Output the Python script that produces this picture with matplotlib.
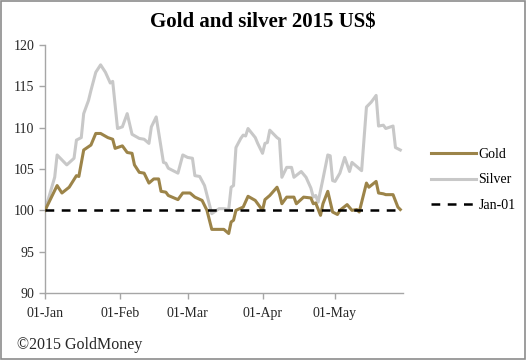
import numpy as np
import matplotlib
matplotlib.use("Agg")
import matplotlib.pyplot as plt
import matplotlib.dates as mdates
from matplotlib.patches import Rectangle

plt.rcParams['font.family'] = ['Liberation Serif', 'DejaVu Serif']

# day offsets from 01-Jan-2015 and index values (01-Jan = 100)
gold_days = [0, 5, 7, 10, 13, 14, 16, 19, 21, 23, 26, 28, 29, 32, 34, 36, 37, 39, 41, 43,
             45, 47, 48, 50, 51, 55, 57, 60, 62, 65, 67, 69, 74, 76, 77, 78, 79, 82, 84, 87,
             90, 91, 93, 96, 97, 98, 100, 103, 104, 107, 110, 111, 112, 114, 115, 117, 119,
             121, 122, 125, 127, 129, 130, 133, 134, 137, 138, 140, 141, 144, 146, 147]
gold = [100.0, 103.0, 102.1, 102.8, 104.2, 104.1, 107.3, 107.9, 109.3, 109.3, 108.8, 108.6,
        107.5, 107.8, 107.0, 106.9, 105.5, 104.6, 104.5, 103.3, 103.8, 103.8, 102.3, 102.2,
        101.8, 101.3, 102.1, 102.1, 101.6, 101.2, 100.0, 97.7, 97.7, 97.2, 98.6, 98.8, 100.0,
        100.4, 101.7, 101.2, 100.0, 101.3, 101.8, 102.8, 102.0, 100.8, 101.6, 101.6, 100.8,
        101.6, 101.5, 100.8, 100.9, 99.4, 100.8, 102.3, 99.8, 99.5, 100.0, 100.7, 100.0, 100.1,
        99.8, 103.3, 102.8, 103.5, 102.1, 102.0, 101.9, 101.9, 100.4, 100.1]

silver_days = [0, 4, 5, 9, 12, 13, 15, 16, 18, 19, 21, 23, 25, 27, 28, 30, 32, 34, 36, 39,
               41, 43, 44, 46, 49, 50, 51, 55, 57, 59, 61, 62, 64, 66, 69, 72, 74, 76, 77, 78,
               79, 81, 82, 83, 84, 87, 88, 90, 91, 92, 93, 96, 97, 98, 100, 102, 103, 106, 108,
               110, 111, 112, 113, 115, 117, 118, 119, 120, 122, 124, 126, 127, 129, 131, 133,
               135, 137, 138, 140, 141, 144, 145, 147]
silver = [100.0, 104.0, 106.7, 105.5, 106.3, 108.5, 108.8, 111.7, 113.3, 114.5, 116.7, 117.6,
          116.7, 115.4, 115.6, 109.9, 110.1, 111.7, 109.2, 108.7, 108.6, 108.1, 110.1, 111.3,
          105.8, 105.7, 105.1, 104.5, 106.7, 106.4, 106.3, 104.2, 104.1, 103.0, 99.6, 100.2,
          100.2, 100.1, 102.8, 103.0, 107.6, 108.7, 109.1, 109.0, 109.9, 108.8, 108.1, 106.9,
          108.1, 108.2, 109.7, 108.8, 108.6, 104.0, 105.2, 105.2, 104.0, 104.7, 104.0, 102.7,
          101.6, 101.8, 101.0, 103.8, 106.7, 106.6, 103.6, 103.5, 104.5, 106.4, 104.7, 105.8,
          105.3, 104.8, 112.5, 113.1, 113.9, 110.2, 110.3, 109.9, 110.2, 107.6, 107.3]

start = np.datetime64('2015-01-01')
gold_dates = start + np.array(gold_days)
silver_dates = start + np.array(silver_days)
base_dates = start + np.array([0, 148])
base = [100, 100]

fig = plt.figure(figsize=(5.26, 3.6), dpi=100)
fig.patches.append(Rectangle((0.002, 0.003), 0.996, 0.994, transform=fig.transFigure,
                             fill=False, edgecolor='#8c8c8c', linewidth=1.2))
ax = fig.add_axes([0.0856, 0.186, 0.68, 0.689])

ax.plot(gold_dates, gold, color='#9c8449', lw=2.2, label='Gold', zorder=3)
ax.plot(silver_dates, silver, color='#c8c8c8', lw=2.2, label='Silver', zorder=2)
ax.plot(base_dates, base, color='black', lw=1.8, ls=(0, (3.5, 3)), label='Jan-01', zorder=4)

ax.set_xlim(start, start + 148)
ax.set_ylim(90, 120)
ax.set_yticks(range(90, 121, 5))
ax.xaxis.set_major_locator(mdates.MonthLocator())
ax.xaxis.set_major_formatter(mdates.DateFormatter('%d-%b'))

for s in ['top', 'right']:
    ax.spines[s].set_visible(False)
for s in ['left', 'bottom']:
    ax.spines[s].set_color('#a6a6a6')
    ax.spines[s].set_linewidth(1.0)
ax.tick_params(axis='both', colors='#a6a6a6', labelcolor='#262626', labelsize=10,
               length=4, width=1.0)
ax.tick_params(axis='x', pad=6)

fig.text(0.5, 0.938, 'Gold and silver 2015 US$', ha='center', va='center',
         fontsize=15, fontweight='bold')
fig.text(0.032, 0.042, '©2015 GoldMoney', ha='left', va='center', fontsize=11.5,
         color='#262626')

leg = ax.legend(loc='center left', bbox_to_anchor=(1.045, 0.456), frameon=False,
                fontsize=10, handlelength=3.2, handletextpad=0.2, labelspacing=0.9)

fig.savefig('out.png', dpi=100)
